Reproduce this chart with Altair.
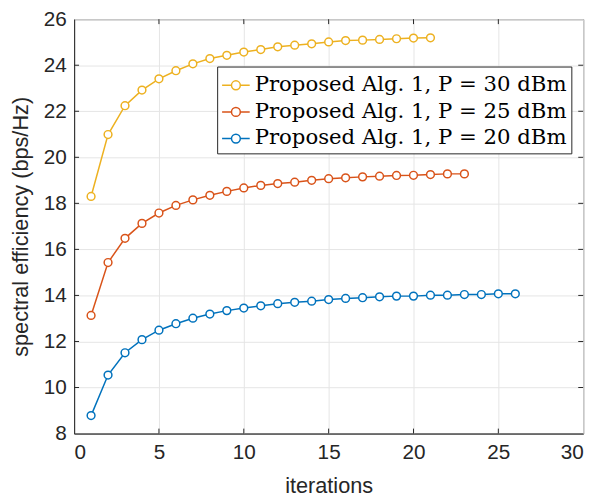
import altair as alt
import pandas as pd

iters_30 = list(range(1, 22))
se_30 = [18.30, 20.99, 22.24, 22.92, 23.41, 23.76, 24.06, 24.29, 24.43, 24.57, 24.68,
         24.80, 24.87, 24.93, 25.01, 25.07, 25.09, 25.12, 25.15, 25.18, 25.19]

iters_25 = list(range(1, 24))
se_25 = [13.13, 15.43, 16.48, 17.13, 17.58, 17.91, 18.15, 18.35, 18.52, 18.67, 18.78,
         18.86, 18.92, 19.00, 19.07, 19.11, 19.15, 19.18, 19.21, 19.22, 19.25, 19.28, 19.28]

iters_20 = list(range(1, 27))
se_20 = [8.78, 10.54, 11.51, 12.08, 12.49, 12.77, 13.01, 13.19, 13.34, 13.45, 13.55,
         13.64, 13.70, 13.75, 13.82, 13.87, 13.90, 13.94, 13.97, 13.97, 14.01, 14.01,
         14.04, 14.04, 14.07, 14.07]

labels = ["Proposed Alg. 1, P = 30 dBm", "Proposed Alg. 1, P = 25 dBm", "Proposed Alg. 1, P = 20 dBm"]
colors = ["#EDB120", "#D95319", "#0072BD"]

x_ticks = [0, 5, 10, 15, 20, 25, 30]
y_ticks = [8, 10, 12, 14, 16, 18, 20, 22, 24, 26]

rows = []
for lab, xs, ys in zip(labels, [iters_30, iters_25, iters_20], [se_30, se_25, se_20]):
    for a, b in zip(xs, ys):
        rows.append({"iter": a, "se": b, "series": lab})
df = pd.DataFrame(rows)

W, H = 516, 420
xscale = alt.Scale(domain=[0, 30], nice=False)
yscale = alt.Scale(domain=[8, 26], nice=False)

sym = "M-1,0L-0.32,0M0.32,0L1,0M-0.32,0A0.32,0.32,0,1,1,0.32,0A0.32,0.32,0,1,1,-0.32,0"

lines = alt.Chart(df).mark_line(
    strokeWidth=1.5,
    point=alt.OverlayMarkDef(filled=False, fill="white", size=62, strokeWidth=1.5),
).encode(
    x=alt.X("iter:Q", scale=xscale,
            axis=alt.Axis(values=x_ticks, title="iterations", titlePadding=14)),
    y=alt.Y("se:Q", scale=yscale,
            axis=alt.Axis(values=y_ticks, title="spectral efficiency (bps/Hz)", titlePadding=11)),
    color=alt.Color("series:N",
                    scale=alt.Scale(domain=labels, range=colors),
                    legend=alt.Legend(
                        title=None, orient="none", legendX=145, legendY=48,
                        symbolType=sym, symbolSize=784, symbolStrokeWidth=1.5,
                        symbolFillColor="transparent",
                        labelFont="DejaVu Serif", labelFontSize=21.5, labelColor="#000000",
                        labelExpr="datum.label + '\u2002\u2002'",
                        labelLimit=0, rowPadding=1, labelOffset=4,
                        strokeColor="#262626", fillColor="white", padding=4,
                    )),
)

xt = pd.DataFrame({"t": x_ticks[1:-1]})
yt = pd.DataFrame({"t": y_ticks[1:-1]})

tick_bottom = alt.Chart(xt).mark_rule(color="#262626", strokeWidth=1).encode(
    x=alt.X("t:Q", scale=xscale), y=alt.value(H), y2=alt.value(H - 5))
tick_top = alt.Chart(xt).mark_rule(color="#262626", strokeWidth=1).encode(
    x=alt.X("t:Q", scale=xscale), y=alt.value(0), y2=alt.value(5))
tick_left = alt.Chart(yt).mark_rule(color="#262626", strokeWidth=1).encode(
    y=alt.Y("t:Q", scale=yscale), x=alt.value(0), x2=alt.value(5))
tick_right = alt.Chart(yt).mark_rule(color="#262626", strokeWidth=1).encode(
    y=alt.Y("t:Q", scale=yscale), x=alt.value(W), x2=alt.value(W - 5))

chart = alt.layer(lines, tick_bottom, tick_top, tick_left, tick_right).properties(
    width=W, height=H,
    background="white",
    autosize=alt.AutoSizeParams(type="none"),
    padding={"left": 67, "top": 8, "right": 14, "bottom": 63},
).configure_view(
    stroke="#262626", strokeWidth=1
).configure_axis(
    labelFont="Liberation Sans", labelFontSize=21, labelColor="#262626",
    titleFont="Liberation Sans", titleFontSize=22, titleColor="#262626", titleFontWeight="normal",
    gridColor="#e5e5e5", gridWidth=1, domainColor="#262626", tickSize=0, labelPadding=8,
)

chart.save("out.html", embed_options={"renderer": "svg", "actions": False})
